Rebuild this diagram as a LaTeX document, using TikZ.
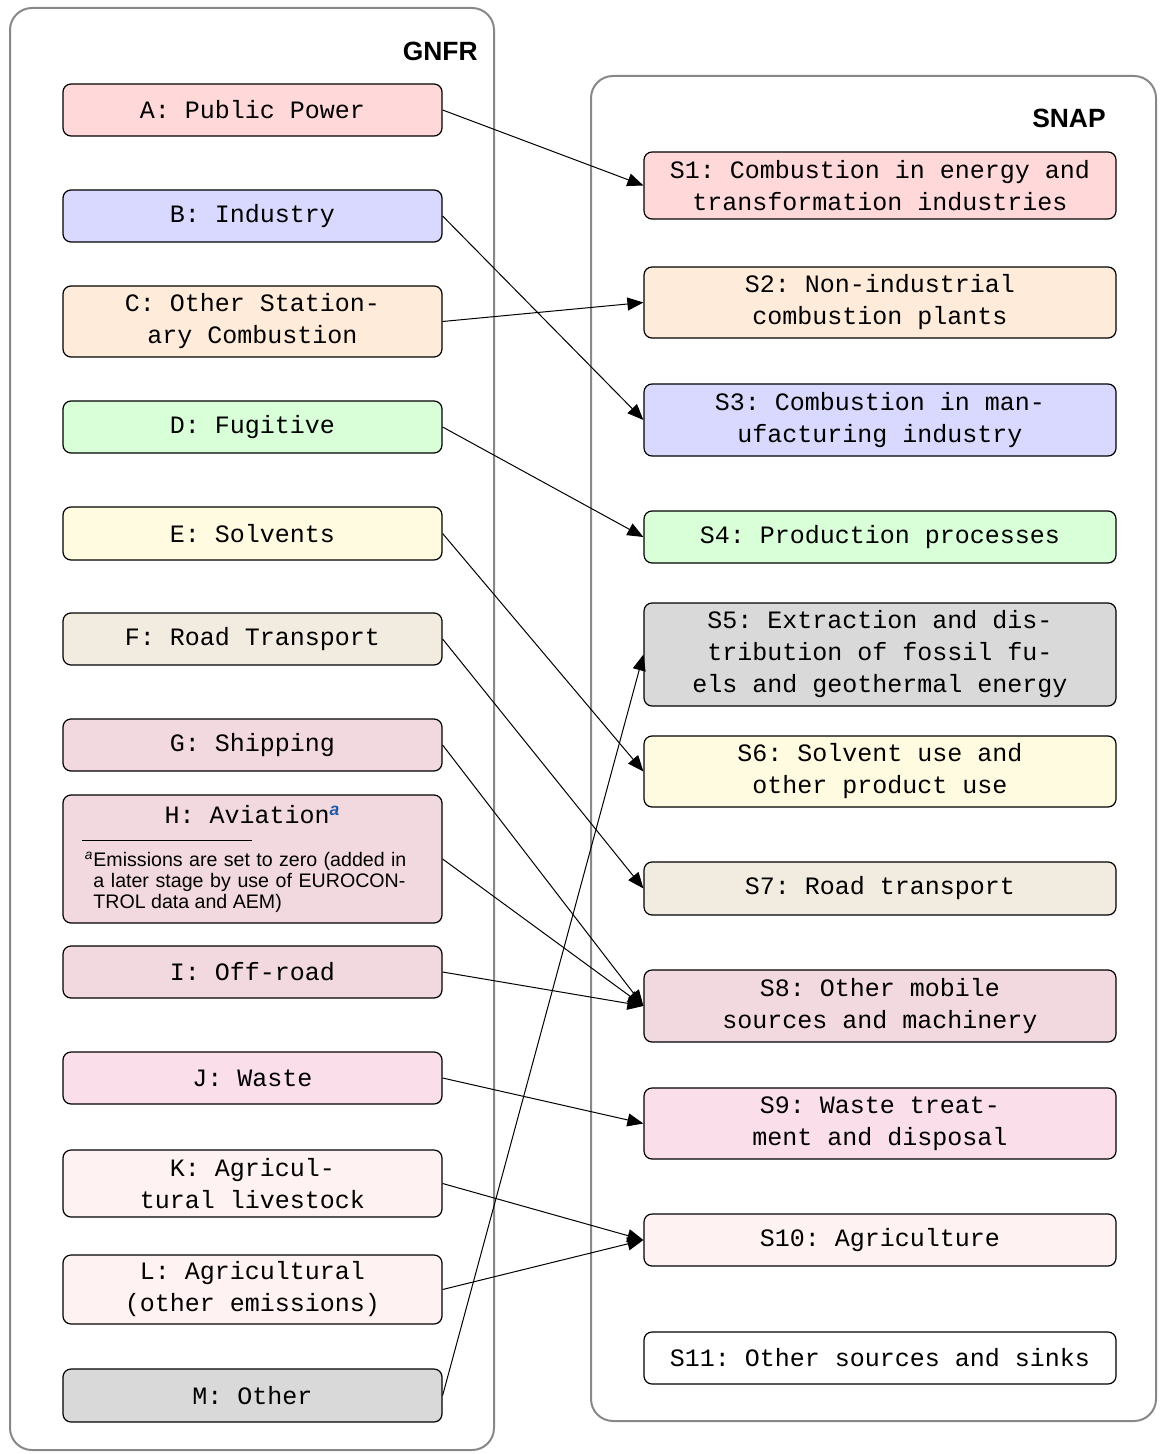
\documentclass[tikz,border=0pt]{standalone}
\usepackage{fontspec}
\setmainfont{Liberation Sans}
\setmonofont{Liberation Mono}
\usetikzlibrary{arrows.meta}

% category fill colours
\definecolor{cPower}{HTML}{FFD9D9}
\definecolor{cIndustry}{HTML}{D9D9FF}
\definecolor{cStation}{HTML}{FFEBD9}
\definecolor{cFugitive}{HTML}{D9FFD9}
\definecolor{cSolvent}{HTML}{FFFBE0}
\definecolor{cRoad}{HTML}{F2EBE0}
\definecolor{cMobile}{HTML}{F2D9E0}
\definecolor{cWaste}{HTML}{FADEE9}
\definecolor{cAgri}{HTML}{FFF2F2}
\definecolor{cOther}{HTML}{D9D9D9}
\definecolor{framegray}{HTML}{888888}
\definecolor{supblue}{HTML}{1F5AA8}

\begin{document}
\begin{tikzpicture}[x=0.5pt,y=-0.5pt,
  frame/.style={draw=framegray, line width=1pt, rounded corners=11pt},
  catbox/.style={draw=black, line width=0.6pt, rounded corners=4pt, inner sep=0pt,
    align=center, font=\ttfamily\fontsize{12.5}{16}\selectfont},
  gbox/.style={catbox, minimum width=189.5pt},
  sbox/.style={catbox, minimum width=236pt},
  link/.style={line width=0.5pt, -{Triangle[length=8pt,width=6.5pt]}},
  grouptitle/.style={font=\bfseries\fontsize{13.2}{15}\selectfont, anchor=east, inner sep=0pt}
]
\useasboundingbox (0,0) rectangle (1160,1454);

% group frames
\draw[frame] (10,8) rectangle (494,1450);
\draw[frame] (591,76) rectangle (1156,1421);
\node[grouptitle] (gnfr) at (478,51) {GNFR};
\node[grouptitle] (snap) at (1106,118) {SNAP};

% GNFR sectors
\node[gbox, fill=cPower,    minimum height=26pt]   (A) at (252.5,110)    {A: Public Power};
\node[gbox, fill=cIndustry, minimum height=26pt]   (B) at (252.5,216)    {B: Industry};
\node[gbox, fill=cStation,  minimum height=35.5pt] (C) at (252.5,321.5)  {C: Other Station-\\ary Combustion};
\node[gbox, fill=cFugitive, minimum height=26pt]   (D) at (252.5,427)    {D: Fugitive};
\node[gbox, fill=cSolvent,  minimum height=26.5pt] (E) at (252.5,533.5)  {E: Solvents};
\node[gbox, fill=cRoad,     minimum height=26pt]   (F) at (252.5,639)    {F: Road Transport};
\node[gbox, fill=cMobile,   minimum height=26pt]   (G) at (252.5,745)    {G: Shipping};
\node[gbox, fill=cMobile,   minimum height=64pt]   (H) at (252.5,859)    {};
\node[gbox, fill=cMobile,   minimum height=26pt]   (I) at (252.5,972)    {I: Off-road};
\node[gbox, fill=cWaste,    minimum height=26pt]   (J) at (252.5,1078)   {J: Waste};
\node[gbox, fill=cAgri,     minimum height=33.5pt] (K) at (252.5,1183.5) {K: Agricul-\\tural livestock};
\node[gbox, fill=cAgri,     minimum height=34.5pt] (L) at (252.5,1289.5) {L: Agricultural\\(other emissions)};
\node[gbox, fill=cOther,    minimum height=26.5pt] (M) at (252.5,1395.5) {M: Other};

% aviation box contents: title with footnote
\node[inner sep=0pt, font=\ttfamily\fontsize{12.5}{16}\selectfont] (Htitle) at (252.5,815)
  {H: Aviation\textsuperscript{\rmfamily\bfseries\itshape\color{supblue}a}};
\draw[line width=0.5pt] (82,840) -- (252,840);
\node[anchor=north west, inner sep=0pt, align=left,
      font=\fontsize{9.8}{10.5}\selectfont] (Hnote) at (93,852)
  {\llap{\smash{\textsuperscript{\itshape a}}}\makebox[156.5pt][s]{Emissions are set to zero (added in}\\
   \makebox[156pt][s]{a later stage by use of EUROCON-}\\
   TROL data and AEM)};

% SNAP sectors
\node[sbox, fill=cPower,    minimum height=33.5pt] (S1)  at (880,185.5)  {S1: Combustion in energy and\\transformation industries};
\node[sbox, fill=cStation,  minimum height=35.5pt] (S2)  at (880,302.5)  {S2: Non-industrial\\combustion plants};
\node[sbox, fill=cIndustry, minimum height=36pt]   (S3)  at (880,420)    {S3: Combustion in man-\\ufacturing industry};
\node[sbox, fill=cFugitive, minimum height=26pt]   (S4)  at (880,537)    {S4: Production processes};
\node[sbox, fill=cOther,    minimum height=51.5pt] (S5)  at (880,654.5)  {S5: Extraction and dis-\\tribution of fossil fu-\\els and geothermal energy};
\node[sbox, fill=cSolvent,  minimum height=35.5pt] (S6)  at (880,771.5)  {S6: Solvent use and\\other product use};
\node[sbox, fill=cRoad,     minimum height=26.5pt] (S7)  at (880,888.5)  {S7: Road transport};
\node[sbox, fill=cMobile,   minimum height=36pt]   (S8)  at (880,1006)   {S8: Other mobile\\sources and machinery};
\node[sbox, fill=cWaste,    minimum height=35.5pt] (S9)  at (880,1123.5) {S9: Waste treat-\\ment and disposal};
\node[sbox, fill=cAgri,     minimum height=26pt]   (S10) at (880,1240)   {S10: Agriculture};
\node[sbox, fill=white,     minimum height=26pt]   (S11) at (880,1358)   {S11: Other sources and sinks};

% GNFR to SNAP mapping
\draw[link] (A.east) -- (S1.west);
\draw[link] (B.east) -- (S3.west);
\draw[link] (C.east) -- (S2.west);
\draw[link] (D.east) -- (S4.west);
\draw[link] (E.east) -- (S6.west);
\draw[link] (F.east) -- (S7.west);
\draw[link] (G.east) -- (S8.west);
\draw[link] (H.east) -- (S8.west);
\draw[link] (I.east) -- (S8.west);
\draw[link] (J.east) -- (S9.west);
\draw[link] (K.east) -- (S10.west);
\draw[link] (L.east) -- (S10.west);
\draw[link] (M.east) -- (S5.west);
\end{tikzpicture}
\end{document}
